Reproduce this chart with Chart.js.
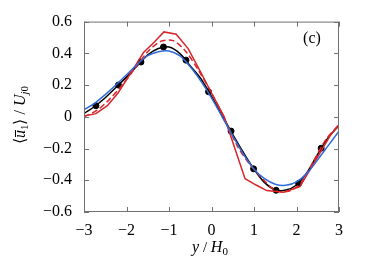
<!DOCTYPE html>
<html>
<head>
<meta charset="utf-8">
<script src="https://cdn.jsdelivr.net/npm/chart.js@4.4.0/dist/chart.umd.min.js"></script>
<style>
  html, body { margin: 0; padding: 0; background: #fff; }
  #wrap { width: 374px; height: 271px; }
</style>
</head>
<body>
<div id="wrap"><canvas id="chart" width="374" height="271"></canvas></div>
<script>
// data (y/H0 -> <u1>/Uj0)
var xTicks = [-3, -2, -1, 0, 1, 2, 3];
var yTicks = [-0.6, -0.4, -0.2, 0, 0.2, 0.4, 0.6];

var markX = [-2.72, -2.19, -1.66, -1.13, -0.6, -0.07, 0.46, 0.99, 1.52, 2.05, 2.58];
var markY = [0.07, 0.20, 0.345, 0.44, 0.357, 0.158, -0.09, -0.328, -0.463, -0.42, -0.198];

var blackX = [-3, -2.75, -2.5, -2.25, -2, -1.75, -1.5, -1.25, -1, -0.75, -0.5, -0.25, 0, 0.25, 0.5, 0.75, 1, 1.25, 1.5, 1.75, 2, 2.25, 2.5, 2.75, 3];
var blackY = [0.02, 0.065, 0.12, 0.185, 0.25, 0.32, 0.39, 0.43, 0.44, 0.40, 0.32, 0.24, 0.128, 0.008, -0.11, -0.225, -0.33, -0.415, -0.46, -0.462, -0.43, -0.35, -0.235, -0.13, -0.055];

var blueX = blackX;
var blueY = [0.045, 0.085, 0.14, 0.20, 0.265, 0.33, 0.385, 0.41, 0.415, 0.385, 0.315, 0.225, 0.12, 0.0, -0.12, -0.235, -0.33, -0.39, -0.425, -0.432, -0.41, -0.355, -0.27, -0.18, -0.09];

var redX = [-3, -2.72, -2.45, -2.2, -1.88, -1.6, -1.35, -1.12, -0.83, -0.55, -0.27, 0.0, 0.3, 0.55, 0.79, 1.05, 1.3, 1.7, 2.08, 2.44, 2.79, 3];
var redY = [0.005, 0.02, 0.07, 0.15, 0.285, 0.405, 0.47, 0.535, 0.52, 0.43, 0.29, 0.15, 0.0, -0.2, -0.39, -0.43, -0.465, -0.475, -0.44, -0.28, -0.12, -0.05];

var dashX = [-3, -2.7, -2.4, -2.1, -1.8, -1.5, -1.2, -0.9, -0.6, -0.3, 0, 0.3, 0.6, 0.9, 1.2, 1.5, 1.8, 2.1, 2.4, 2.7, 3];
var dashY = [0.0, 0.04, 0.11, 0.2, 0.305, 0.41, 0.475, 0.48, 0.41, 0.29, 0.15, -0.01, -0.18, -0.3, -0.39, -0.465, -0.47, -0.42, -0.28, -0.14, -0.05];

var RED = '#d8262c';
var BLUE = '#2f6bd8';
var SERIF = '"Liberation Serif", serif';

function pts(xs, ys) {
  return xs.map(function(x, i) { return {x: x, y: ys[i]}; });
}

// frame, inward ticks and math labels
var decor = {
  id: 'decor',
  afterDraw: function(chart) {
    var c = chart.ctx, a = chart.chartArea;
    var xs = chart.scales.x, ys = chart.scales.y;
    c.save();
    c.strokeStyle = '#707070';
    c.lineWidth = 1;
    c.strokeRect(a.left + 0.5, a.top + 0.5, a.right - a.left - 1, a.bottom - a.top - 1);
    c.beginPath();
    xTicks.forEach(function(v) {
      var p = Math.round(xs.getPixelForValue(v)) + 0.5;
      c.moveTo(p, a.bottom); c.lineTo(p, a.bottom - 5);
      c.moveTo(p, a.top); c.lineTo(p, a.top + 5);
    });
    yTicks.forEach(function(v) {
      var p = Math.round(ys.getPixelForValue(v)) + 0.5;
      c.moveTo(a.left, p); c.lineTo(a.left + 5, p);
      c.moveTo(a.right, p); c.lineTo(a.right - 5, p);
    });
    c.stroke();

    c.fillStyle = '#000';
    c.textBaseline = 'alphabetic';
    var fs = 16;
    // (c)
    c.font = fs + 'px ' + SERIF;
    c.textAlign = 'center';
    c.fillText('(c)', 312, 43);
    c.textAlign = 'left';

    // x title: y/H0
    var parts = [
      {t: 'y', f: 'italic ' + fs + 'px ' + SERIF, dy: 0},
      {t: ' / ', f: '15px ' + SERIF, dy: 0},
      {t: 'H', f: 'italic ' + fs + 'px ' + SERIF, dy: 0},
      {t: '0', f: '11px ' + SERIF, dy: 3}
    ];
    drawParts(c, parts, 210, 252);

    // y title: <u1>/Uj0, rotated
    c.translate(20, 115);
    c.rotate(-Math.PI / 2);
    var yparts = [
      {t: '\u27E8', f: fs + 'px ' + SERIF, dy: 0},
      {t: 'u', f: 'italic ' + fs + 'px ' + SERIF, dy: 0, bar: true},
      {t: '1', f: '11px ' + SERIF, dy: 3},
      {t: '\u27E9 / ', f: fs + 'px ' + SERIF, dy: 0},
      {t: 'U', f: 'italic ' + fs + 'px ' + SERIF, dy: 0},
      {t: 'j', f: 'italic 11px ' + SERIF, dy: 3},
      {t: '0', f: '11px ' + SERIF, dy: 3}
    ];
    drawParts(c, yparts, 0, 5);
    c.restore();
  }
};

function drawParts(c, parts, cx, by) {
  var total = 0;
  parts.forEach(function(p) { c.font = p.f; p.w = c.measureText(p.t).width; total += p.w; });
  var x = cx - total / 2;
  parts.forEach(function(p) {
    c.font = p.f;
    c.fillText(p.t, x, by + p.dy);
    if (p.bar) {
      c.fillRect(x + 1, by - 10, p.w - 1, 1);
    }
    x += p.w;
  });
}

var ctx = document.getElementById('chart').getContext('2d');
var chart = new Chart(ctx, {
  type: 'scatter',
  data: {
    datasets: [
      {data: pts(blueX, blueY), showLine: true, borderColor: BLUE, borderWidth: 1.5, pointRadius: 0, tension: 0.35},
      {data: pts(dashX, dashY), showLine: true, borderColor: RED, borderWidth: 1.5, borderDash: [6, 3], pointRadius: 0, tension: 0.3},
      {data: pts(redX, redY), showLine: true, borderColor: RED, borderWidth: 1.5, pointRadius: 0, tension: 0},
      {data: pts(blackX, blackY), showLine: true, borderColor: '#000', borderWidth: 1.5, pointRadius: 0, tension: 0.35},
      {data: pts(markX, markY), showLine: false, backgroundColor: '#000', borderColor: '#000', pointRadius: 3, pointHoverRadius: 3}
    ]
  },
  options: {
    responsive: false,
    animation: false,
    events: [],
    layout: {padding: {left: 0, right: 35, top: 19, bottom: 0}},
    plugins: {legend: {display: false}, tooltip: {enabled: false}},
    scales: {
      x: {
        type: 'linear', min: -3, max: 3,
        afterBuildTicks: function(s) { s.ticks = xTicks.map(function(v) { return {value: v}; }); },
        afterFit: function(s) { s.height = 59; },
        grid: {display: false, drawTicks: false},
        border: {display: false},
        ticks: {
          color: '#000', padding: 9,
          font: {family: SERIF, size: 16},
          callback: function(v) { return String(v).replace('-', '\u2212'); }
        }
      },
      y: {
        type: 'linear', min: -0.6, max: 0.6,
        afterBuildTicks: function(s) { s.ticks = yTicks.map(function(v) { return {value: v}; }); },
        afterFit: function(s) { s.width = 84; },
        grid: {display: false, drawTicks: false},
        border: {display: false},
        ticks: {
          color: '#000', padding: 12,
          font: {family: SERIF, size: 16},
          callback: function(v) {
            var s = Math.abs(v) < 1e-9 ? '0' : v.toFixed(1);
            return s.replace('-', '\u2212');
          }
        }
      }
    }
  },
  plugins: [decor]
});
</script>
</body>
</html>
